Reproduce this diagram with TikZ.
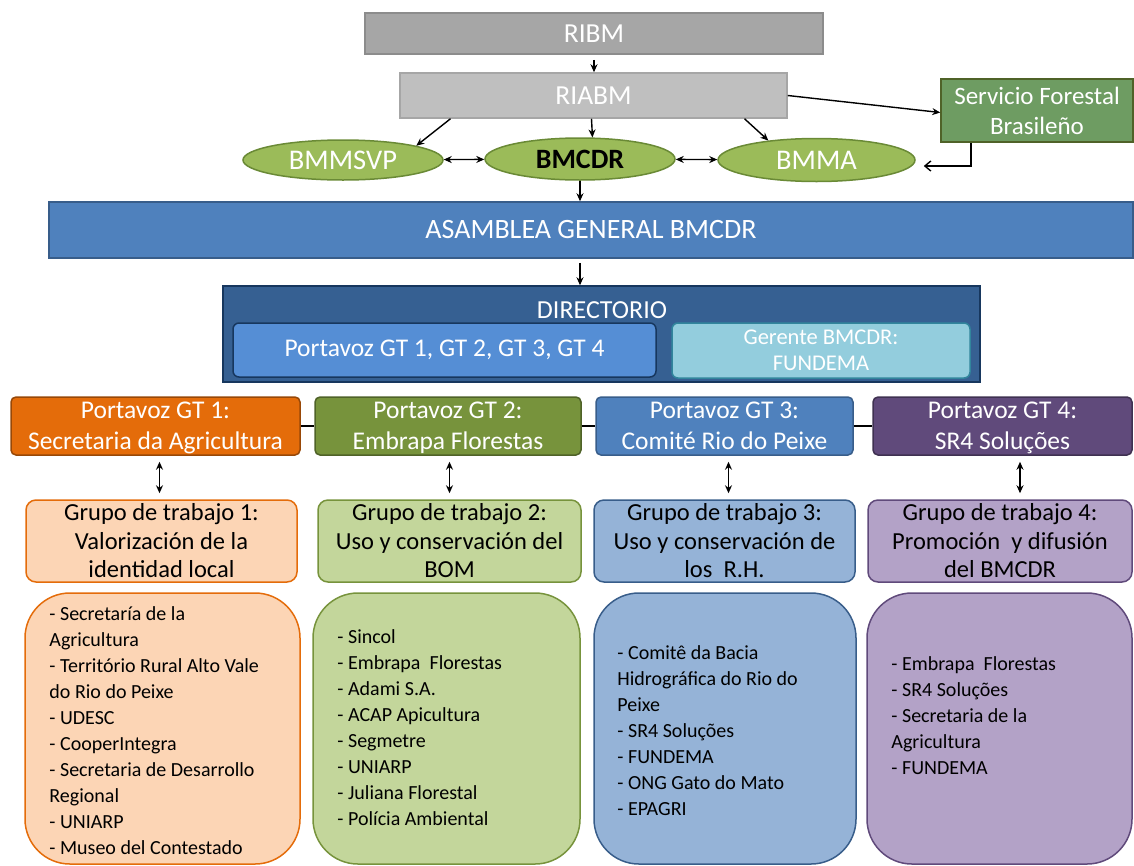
\documentclass[tikz,border=0pt]{standalone}
\usepackage{fontspec}
\setmainfont{Carlito}
\usetikzlibrary{arrows.meta,shapes.geometric}

\newcommand\setfs[2]{\fontsize{#1}{#2}\selectfont}
% two lines with fixed top and bottom room
\newcommand\twolines[2]{\rule{0pt}{21pt}#1\\#2\rule[-6pt]{0pt}{6pt}}

\definecolor{ribmfill}{HTML}{A6A6A6}
\definecolor{ribmline}{HTML}{8C8C8C}
\definecolor{riabmfill}{HTML}{BFBFBF}
\definecolor{riabmline}{HTML}{A6A6A6}
\definecolor{sfbfill}{HTML}{6E9C62}
\definecolor{sfbline}{HTML}{4F6228}
\definecolor{bmfill}{HTML}{9BBB59}
\definecolor{bmline}{HTML}{6A8A36}
\definecolor{asamfill}{HTML}{4F81BD}
\definecolor{asamline}{HTML}{385D8A}
\definecolor{dirfill}{HTML}{366092}
\definecolor{dirline}{HTML}{17375E}
\definecolor{pvfill}{HTML}{558ED5}
\definecolor{gerfill}{HTML}{93CDDD}
\definecolor{gerline}{HTML}{31859C}
\definecolor{orange}{HTML}{E46C0A}
\definecolor{orangeline}{HTML}{984807}
\definecolor{orangelight}{HTML}{FCD5B5}
\definecolor{olive}{HTML}{77933C}
\definecolor{oliveline}{HTML}{4F6228}
\definecolor{olivelight}{HTML}{C3D69B}
\definecolor{steel}{HTML}{4F81BD}
\definecolor{steelline}{HTML}{385D8A}
\definecolor{steellight}{HTML}{95B3D7}
\definecolor{plum}{HTML}{604A7B}
\definecolor{plumline}{HTML}{3F3151}
\definecolor{plumlight}{HTML}{B3A2C7}

\tikzset{
  flat/.style 2 args={rectangle, fill=#1, draw=#2, line width=1.5pt,
    inner sep=0pt, align=center, text=white},
  bm/.style={ellipse, fill=bmfill, draw=bmline, line width=1.5pt,
    inner sep=0pt, text=white, font=\setfs{28.5}{32}},
  gt/.style 2 args={flat={#1}{#2}, rounded corners=5pt,
    minimum height=58pt, font=\setfs{25.5}{31}},
  grupo/.style 2 args={rectangle, rounded corners=10pt, fill=#1, draw=#2,
    line width=1.5pt, inner sep=0pt, align=center, minimum height=82pt,
    font=\setfs{24.5}{28.5}},
  lista/.style 2 args={rectangle, rounded corners=45pt, fill=#1, draw=#2,
    line width=1.5pt, minimum height=271pt},
  listtext/.style={anchor=west, align=left, inner sep=0pt,
    font=\setfs{20}{26}},
  arr/.style={-{Stealth[length=8pt,width=7pt]}, line width=1.4pt},
  darr/.style={{Stealth[length=8pt,width=7pt]}-{Stealth[length=8pt,width=7pt]},
    line width=1.4pt}
}

\begin{document}
\begin{tikzpicture}[x=1pt,y=-1pt]
  \useasboundingbox (0,0) rectangle (1134,865);

  % top of the network
  \node[flat={ribmfill}{ribmline}, minimum width=458pt, minimum height=41pt,
    font=\setfs{27.5}{30}] (ribm) at (594,33.5) {RIBM};
  \node[flat={riabmfill}{riabmline}, minimum width=387pt, minimum height=45pt,
    font=\setfs{27.5}{30}] (riabm) at (593.5,95.5) {RIABM};
  \node[flat={sfbfill}{sfbline}, minimum width=192pt, minimum height=63pt,
    font=\setfs{25}{30}] (sfb) at (1037,110.5) {Servicio Forestal\\Brasileño};

  \node[bm, minimum width=200pt, minimum height=40pt] (bmmsvp) at (343,160) {BMMSVP};
  \node[bm, minimum width=190pt, minimum height=42pt, text=black,
    font=\setfs{28}{32}\bfseries] (bmcdr) at (580,159) {BMCDR};
  \node[bm, minimum width=197pt, minimum height=43pt] (bmma) at (816.5,160) {BMMA};

  \draw[arr, shorten <=5pt] (ribm.south) -- (ribm.south |- riabm.north);
  \draw[arr] ([xshift=-143pt]riabm.south) -- (bmmsvp.11);
  \draw[arr] ([xshift=-2pt]riabm.south) -- (bmcdr.60);
  \draw[arr] ([xshift=151pt]riabm.south) -- (bmma.158);
  \draw[arr] (riabm.east) -- ([yshift=-2pt]sfb.west);
  \draw[-{Straight Barb[length=6pt,width=10pt]}, line width=1.4pt]
    ([xshift=-66pt]sfb.south) |- ([xshift=8pt,yshift=-6pt]bmma.east);
  \draw[darr] (bmmsvp) -- (bmcdr);
  \draw[darr] (bmcdr) -- (bmma);

  % assembly and board
  \node[flat={asamfill}{asamline}, minimum width=1084pt, minimum height=56pt,
    font=\setfs{28}{32}] (asam) at (591,230) {ASAMBLEA GENERAL BMCDR};
  \draw[arr] (bmcdr.south) -- (bmcdr.south |- asam.north);

  \node[flat={dirfill}{dirline}, minimum width=757pt, minimum height=96pt] (dir) at (601.5,334) {};
  \node[text=white, inner sep=0pt, font=\setfs{26}{30}] (dirt) at (602,310) {DIRECTORIO};
  \node[flat={pvfill}{dirline}, rounded corners=6pt, minimum width=423pt,
    minimum height=54pt, font=\setfs{25.5}{30}] (pv) at (444.5,350) {Portavoz GT 1, GT 2, GT 3, GT 4};
  \node[flat={gerfill}{gerline}, rounded corners=6pt, minimum width=298pt,
    minimum height=55pt, font=\setfs{22.5}{26}] (ger) at (821,350.5) {Gerente BMCDR:\\FUNDEMA};
  \draw[arr, shorten <=4pt] (bmcdr.south |- asam.south) -- (bmcdr.south |- dir.north);

  % spokespersons
  \node[gt={orange}{orangeline}, minimum width=289pt] (gt1) at (155.5,426) {\twolines{Portavoz GT 1:}{Secretaria da Agricultura}};
  \node[gt={olive}{oliveline}, minimum width=266pt] (gt2) at (448,426) {\twolines{Portavoz GT 2:}{Embrapa Florestas}};
  \node[gt={steel}{steelline}, minimum width=257pt] (gt3) at (724.5,426) {\twolines{Portavoz GT 3:}{Comité Rio do Peixe}};
  \node[gt={plum}{plumline}, minimum width=259pt] (gt4) at (1002.5,426) {\twolines{Portavoz GT 4:}{SR4 Soluções}};
  \draw[line width=1.2pt] (gt1) -- (gt2);
  \draw[line width=1.2pt] (gt2) -- (gt3);
  \draw[line width=1.2pt] (gt3) -- (gt4);

  % working groups
  \node[grupo={orangelight}{orange}, minimum width=271pt] (gr1) at (161.5,541) {Grupo de trabajo 1:\\Valorización de la\\identidad local};
  \node[grupo={olivelight}{olive}, minimum width=263pt] (gr2) at (449.5,541) {Grupo de trabajo 2:\\Uso y conservación del\\BOM};
  \node[grupo={steellight}{steelline}, minimum width=261pt] (gr3) at (724.5,541) {Grupo de trabajo 3:\\Uso y conservación de\\los~ R.H.};
  \node[grupo={plumlight}{plum}, minimum width=264pt] (gr4) at (1000,541) {Grupo de trabajo 4:\\Promoción~ y difusión\\del BMCDR};
  \draw[darr, shorten <=6pt, shorten >=6pt] ([xshift=-2pt]gr1.north |- gt1.south) -- ([xshift=-2pt]gr1.north);
  \draw[darr, shorten <=6pt, shorten >=6pt] (gr2.north |- gt2.south) -- (gr2.north);
  \draw[darr, shorten <=6pt, shorten >=6pt] ([xshift=4pt]gr3.north |- gt3.south) -- ([xshift=4pt]gr3.north);
  \draw[darr, shorten <=6pt, shorten >=6pt] ([xshift=20pt]gr4.north |- gt4.south) -- ([xshift=20pt]gr4.north);

  % members
  \node[lista={orangelight}{orange}, minimum width=275pt] (ls1) at (162.5,728.5) {};
  \node[lista={olivelight}{olive}, minimum width=267pt] (ls2) at (446.5,728.5) {};
  \node[lista={steellight}{steelline}, minimum width=262pt] (ls3) at (725,728.5) {};
  \node[lista={plumlight}{plum}, minimum width=265pt] (ls4) at (999.5,728.5) {};

  \node[listtext] (lt1) at ([xshift=25pt,yshift=-2pt]ls1.west)
    {- Secretaría de la\\Agricultura\\- Território Rural Alto Vale\\do Rio do Peixe\\- UDESC\\- CooperIntegra\\- Secretaria de Desarrollo\\Regional\\- UNIARP\\- Museo del Contestado};
  \node[listtext] (lt2) at ([xshift=25pt,yshift=1pt]ls2.west)
    {- Sincol\\- Embrapa~ Florestas\\- Adami S.A.\\- ACAP Apicultura\\- Segmetre\\- UNIARP\\- Juliana Florestal\\- Polícia Ambiental};
  \node[listtext] (lt3) at ([xshift=24pt,yshift=-2pt]ls3.west)
    {- Comitê da Bacia\\Hidrográfica do Rio do\\Peixe\\- SR4 Soluções\\- FUNDEMA\\- ONG Gato do Mato\\- EPAGRI};
  \node[listtext] (lt4) at ([xshift=25pt,yshift=13pt]ls4.west)
    {- Embrapa~ Florestas\\- SR4 Soluções\\- Secretaria de la\\Agricultura\\- FUNDEMA};
\end{tikzpicture}
\end{document}
